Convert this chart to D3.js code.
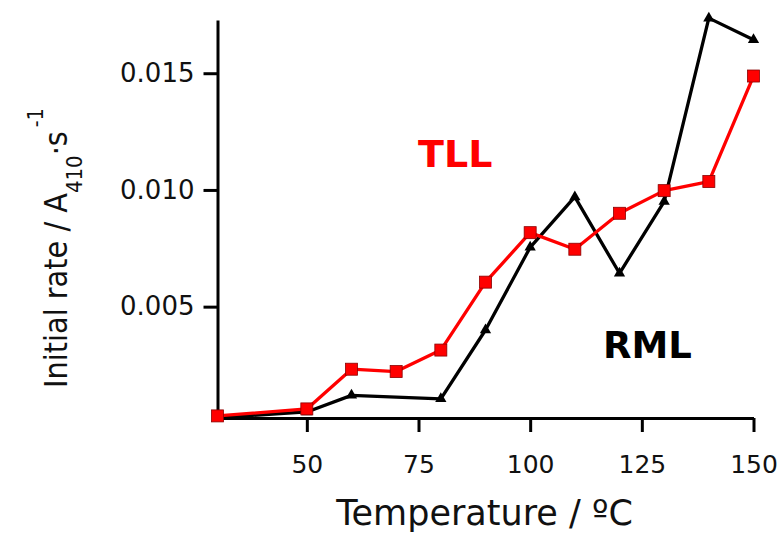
<!DOCTYPE html>
<html>
<head>
<meta charset="utf-8">
<script src="https://cdn.jsdelivr.net/npm/d3@7"></script>
<style>
  body { margin: 0; background: #fff; }
  .axis path, .axis line { stroke: #000; stroke-width: 3; }
</style>
</head>
<body>
<div id="chart"></div>
<script>
// temperatures (C) and initial rates
var tllTemps = [30, 50, 60, 70, 80, 90, 100, 110, 120, 130, 140, 150];
var tllRates = [0.00032, 0.00062, 0.00232, 0.00222, 0.00314, 0.00605, 0.00817, 0.00746, 0.0090, 0.00997, 0.01036, 0.01488];

var rmlTemps = [30, 50, 60, 80, 90, 100, 110, 120, 130, 140, 150];
var rmlRates = [0.00025, 0.00049, 0.00120, 0.00105, 0.0040, 0.00754, 0.0097, 0.00643, 0.0095, 0.01736, 0.01643];

var xTicks = [50, 75, 100, 125, 150];
var yTicks = [0.005, 0.010, 0.015];

var svgWidth = 779;
var svgHeight = 535;

var svg = d3.select("#chart")
  .append("svg")
  .attr("width", svgWidth)
  .attr("height", svgHeight);

var xScale = d3.scaleLinear().domain([30, 150]).range([217.5, 753.5]);
var yScale = d3.scaleLinear().domain([0.00023, 0.01728]).range([418, 20]);

var bottomAxis = d3.axisBottom(xScale).tickValues(xTicks).tickSize(14).tickSizeOuter(0).tickPadding(23);
var leftAxis = d3.axisLeft(yScale).tickValues(yTicks).tickSize(14).tickSizeOuter(0).tickPadding(9).tickFormat(d3.format(".3f"));

var xg = svg.append("g").attr("class", "axis")
  .attr("transform", "translate(0, 418)")
  .call(bottomAxis);
xg.selectAll("text")
  .style("font-family", "'DejaVu Sans'")
  .style("font-size", "25px")
  .attr("fill", "#111");

var yg = svg.append("g").attr("class", "axis")
  .attr("transform", "translate(217.5, 0)")
  .call(leftAxis);
yg.selectAll("text")
  .style("font-family", "'DejaVu Sans'")
  .style("font-size", "26px")
  .attr("fill", "#111");

var rml = rmlTemps.map((t, i) => ({ t: t, v: rmlRates[i] }));
var tll = tllTemps.map((t, i) => ({ t: t, v: tllRates[i] }));

var line = d3.line().x(d => xScale(d.t)).y(d => yScale(d.v));

// RML - black with triangles
svg.append("path").datum(rml)
  .attr("d", line)
  .attr("fill", "none")
  .attr("stroke", "#000")
  .attr("stroke-width", 3.3)
  .attr("stroke-linejoin", "round");

svg.selectAll(".tri").data(rml).enter().append("path")
  .attr("class", "tri")
  .attr("d", d3.symbol().type(d3.symbolTriangle).size(55))
  .attr("transform", d => `translate(${xScale(d.t)}, ${yScale(d.v)})`)
  .attr("fill", "#000");

// TLL - red with squares
svg.append("path").datum(tll)
  .attr("d", line)
  .attr("fill", "none")
  .attr("stroke", "#ff0000")
  .attr("stroke-width", 3.3)
  .attr("stroke-linejoin", "round");

svg.selectAll(".sq").data(tll).enter().append("rect")
  .attr("class", "sq")
  .attr("x", d => xScale(d.t) - 6)
  .attr("y", d => yScale(d.v) - 6)
  .attr("width", 12)
  .attr("height", 12)
  .attr("fill", "#ff0000")
  .attr("stroke", "#8a0000")
  .attr("stroke-width", 0.8);

// series labels
svg.append("text")
  .attr("x", 418)
  .attr("y", 166.5)
  .attr("fill", "#ff0000")
  .style("font-family", "'DejaVu Sans'")
  .style("font-weight", "bold")
  .style("font-size", "38px")
  .text("TLL");

svg.append("text")
  .attr("x", 603)
  .attr("y", 358)
  .attr("fill", "#000")
  .style("font-family", "'DejaVu Sans'")
  .style("font-weight", "bold")
  .style("font-size", "37px")
  .text("RML");

// axis titles
svg.append("text")
  .attr("x", 484.5)
  .attr("y", 525)
  .attr("text-anchor", "middle")
  .attr("fill", "#111")
  .style("font-family", "'DejaVu Sans'")
  .style("font-size", "35px")
  .text("Temperature / \u00baC");

var yTitle = svg.append("text")
  .attr("transform", "translate(66.5, 388) rotate(-90)")
  .attr("fill", "#111")
  .style("font-family", "'DejaVu Sans Condensed', 'DejaVu Sans'")
  .style("font-size", "32px");
yTitle.append("tspan").text("Initial rate / A");
yTitle.append("tspan").attr("dy", 15).style("font-size", "22px").text("410");
yTitle.append("tspan").attr("dy", -15).text("\u00b7s");
yTitle.append("tspan").attr("dy", -24).attr("dx", 4).style("font-size", "21px").text("-1");
</script>
</body>
</html>
